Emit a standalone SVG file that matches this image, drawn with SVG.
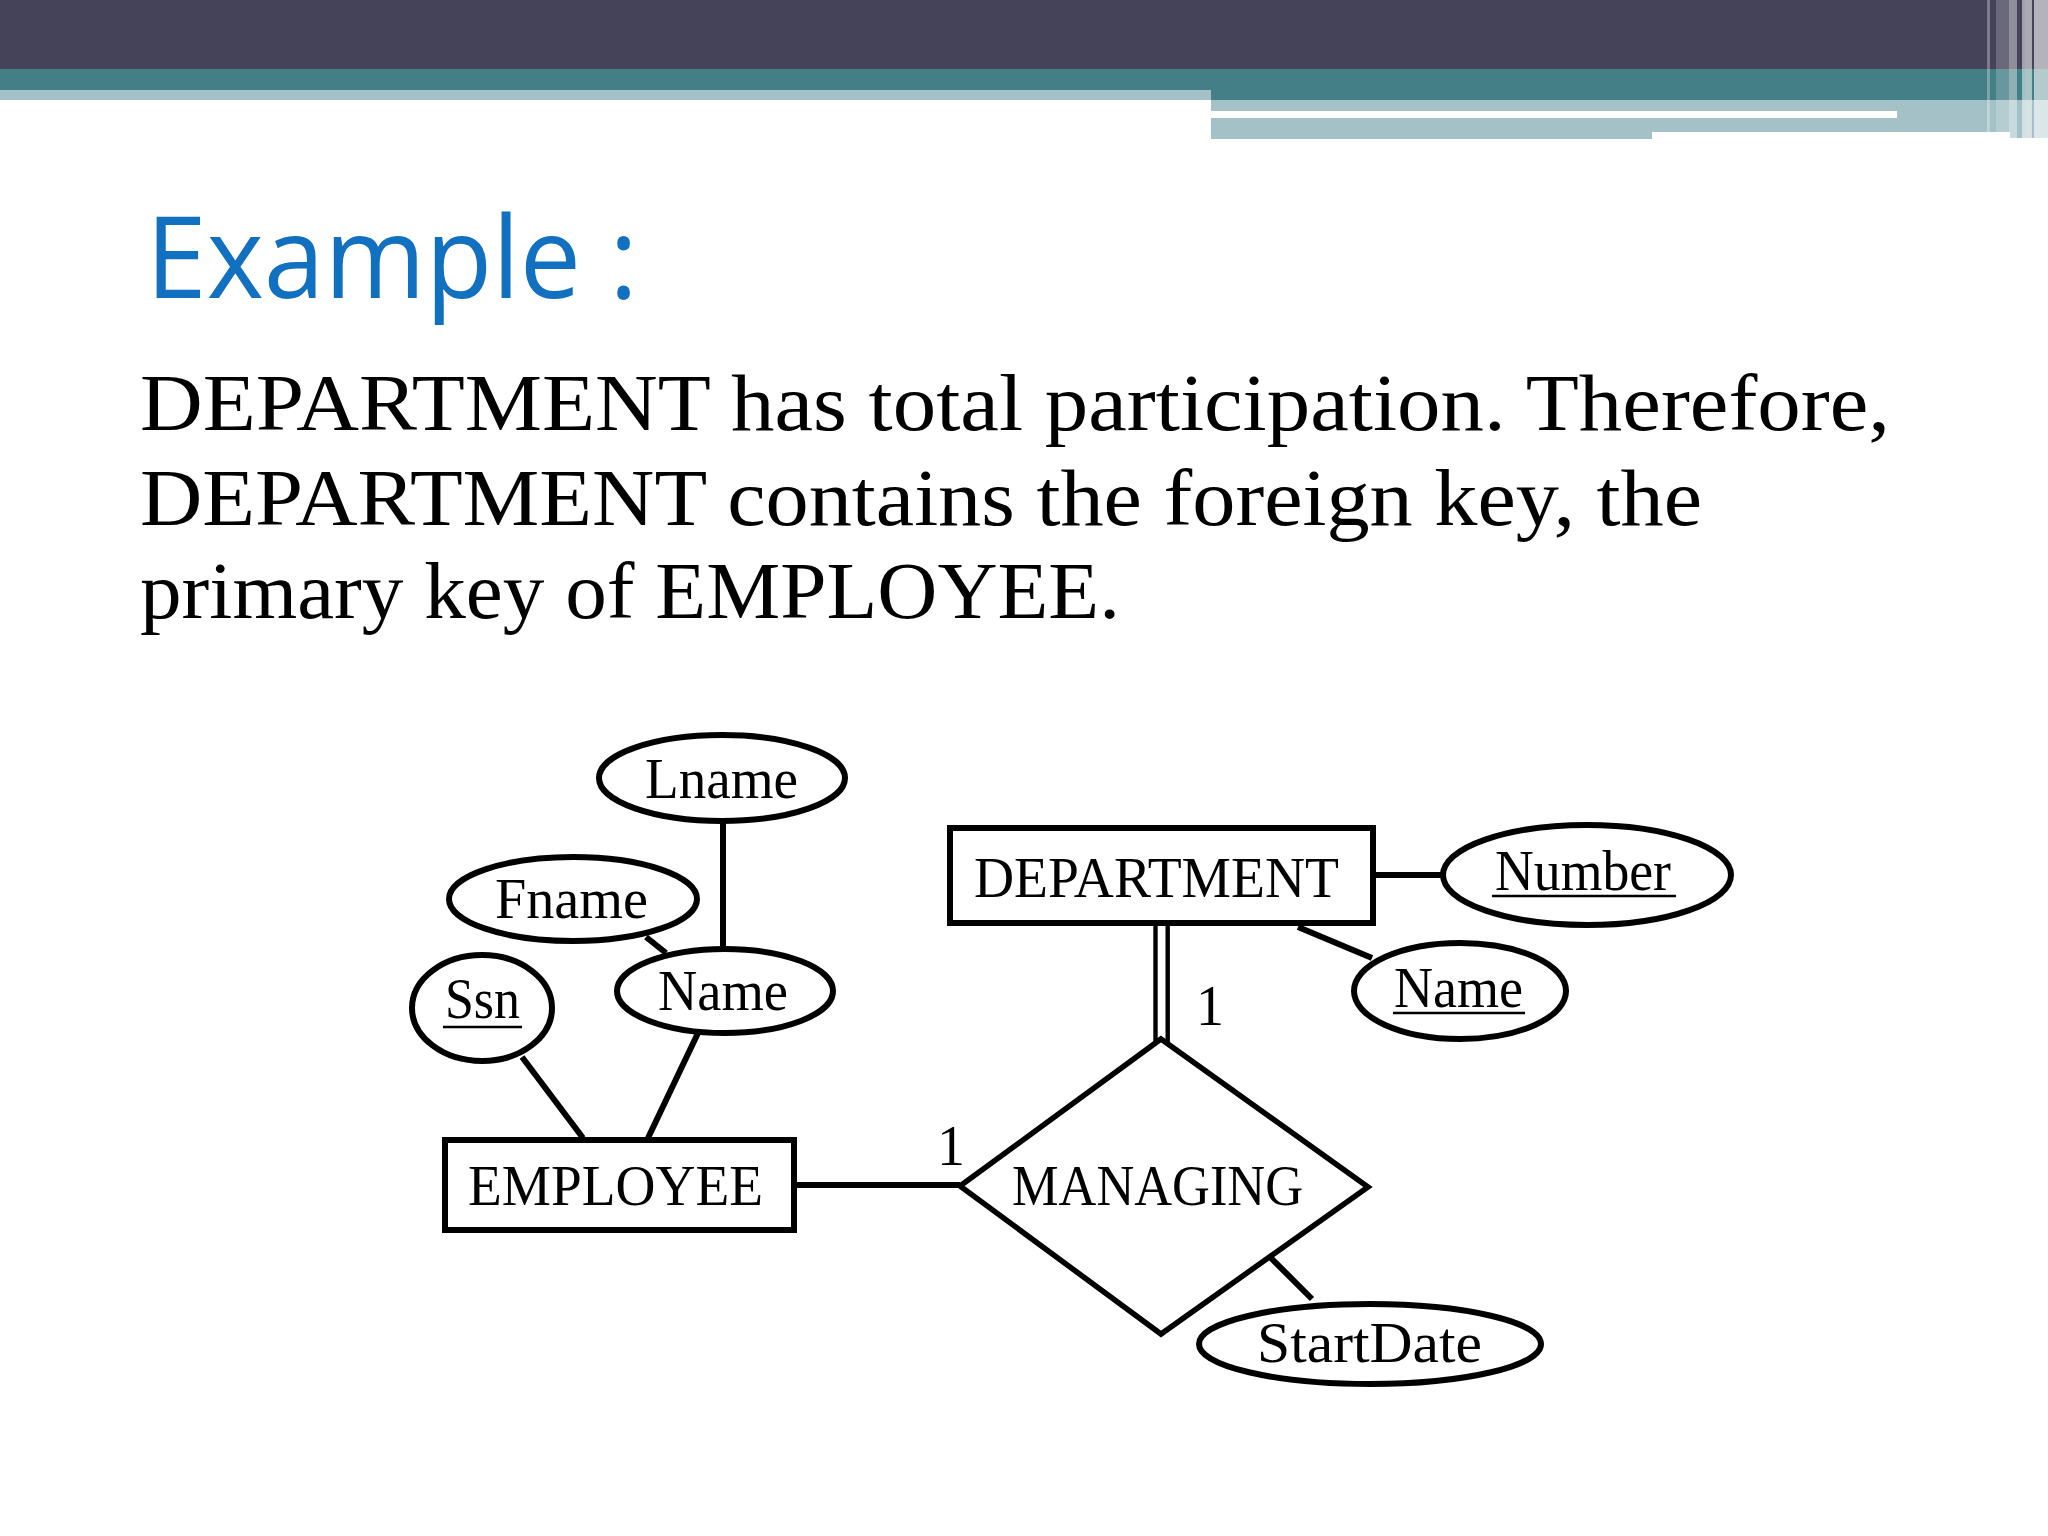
<svg xmlns="http://www.w3.org/2000/svg" width="2048" height="1536" viewBox="0 0 2048 1536">
<defs>
<style>
.er{font-family:"Liberation Serif","Times New Roman",serif;font-size:56px;fill:#000}
.shape{fill:#fff;stroke:#000;stroke-width:6}
.conn line{stroke:#000;stroke-width:6}
.ul{stroke:#000;stroke-width:2.5}
.body{font-family:"Liberation Serif","Times New Roman",serif;font-size:80px;fill:#000}
</style>
</defs>
<rect x="0" y="0" width="2048" height="1536" fill="#fff"/>
<!-- header bands -->
<g id="header">
<rect x="0" y="0" width="2048" height="69" fill="#454359"/>
<rect x="0" y="69" width="2048" height="31" fill="#447E86"/>
<rect x="0" y="90" width="1211" height="10" fill="#A3C1C6"/>
<rect x="1211" y="100" width="776" height="39" fill="#A3C1C6"/>
<rect x="1987" y="100" width="61" height="32" fill="#A3C1C6"/>
<rect x="2010" y="132" width="38" height="6" fill="#A3C1C6"/>
<rect x="1211" y="111" width="686" height="7" fill="#fff"/>
<rect x="1652" y="132" width="358" height="8" fill="#fff"/>
<rect x="1987" y="0" width="3" height="138" fill="#fff" opacity="0.3"/>
<rect x="1996" y="0" width="13" height="138" fill="#fff" opacity="0.2"/>
<rect x="2009" y="0" width="8" height="138" fill="#fff" opacity="0.4"/>
<rect x="2022" y="0" width="3" height="138" fill="#fff" opacity="0.5"/>
<rect x="2025" y="0" width="7" height="138" fill="#fff" opacity="0.55"/>
<rect x="2034" y="0" width="14" height="138" fill="#fff" opacity="0.6"/>
</g>
<text id="title" x="146" y="298" font-family="Open Sans, Lato, sans-serif" font-size="113" fill="#1170C0" textLength="492" lengthAdjust="spacingAndGlyphs">Example :</text>
<g id="bodytext" class="body">
<text x="140" y="430" textLength="1750" lengthAdjust="spacingAndGlyphs">DEPARTMENT has total participation. Therefore,</text>
<text x="140" y="525" textLength="1562" lengthAdjust="spacingAndGlyphs">DEPARTMENT contains the foreign key, the</text>
<text x="140" y="618" textLength="980" lengthAdjust="spacingAndGlyphs">primary key of EMPLOYEE.</text>
</g>
<!-- connectors -->
<g id="connectors" class="conn">
<line x1="723" y1="823" x2="723" y2="948"/>
<line x1="646" y1="937" x2="666" y2="953"/>
<line x1="522" y1="1057" x2="583" y2="1138"/>
<line x1="698" y1="1033" x2="648" y2="1138"/>
<line x1="797" y1="1185" x2="960" y2="1185"/>
<line x1="1376" y1="875" x2="1443" y2="875"/>
<line x1="1298" y1="927" x2="1372" y2="958"/>
<line x1="1155.5" y1="926" x2="1155.5" y2="1042" style="stroke-width:4.4"/>
<line x1="1167.7" y1="926" x2="1167.7" y2="1042" style="stroke-width:4.4"/>
<line x1="1270" y1="1257" x2="1312" y2="1299"/>
</g>
<g id="lname"><ellipse class="shape" cx="722" cy="778" rx="123" ry="43"/><text class="er" x="645" y="798" textLength="153" lengthAdjust="spacingAndGlyphs">Lname</text></g>
<g id="fname"><ellipse class="shape" cx="573" cy="899" rx="124" ry="42"/><text class="er" x="495" y="918" textLength="153" lengthAdjust="spacingAndGlyphs">Fname</text></g>
<g id="name-emp"><ellipse class="shape" cx="725" cy="991" rx="108" ry="42"/><text class="er" x="658" y="1010" textLength="130" lengthAdjust="spacingAndGlyphs">Name</text></g>
<g id="ssn"><ellipse class="shape" cx="482" cy="1008" rx="70" ry="53"/><text class="er" x="445" y="1018" textLength="75" lengthAdjust="spacingAndGlyphs">Ssn</text><line class="ul" x1="443" y1="1027" x2="522" y2="1027"/></g>
<g id="employee"><rect class="shape" x="445" y="1140" width="349" height="90"/><text class="er" x="468" y="1205" textLength="295" lengthAdjust="spacingAndGlyphs">EMPLOYEE</text></g>
<g id="department"><rect class="shape" x="950" y="828" width="423" height="95"/><text class="er" x="974" y="897" textLength="365" lengthAdjust="spacingAndGlyphs">DEPARTMENT</text></g>
<g id="number"><ellipse class="shape" cx="1587" cy="875" rx="144" ry="50"/><text class="er" x="1495" y="890" textLength="176" lengthAdjust="spacingAndGlyphs">Number</text><line class="ul" x1="1492" y1="896" x2="1676" y2="896"/></g>
<g id="name-dept"><ellipse class="shape" cx="1460" cy="991" rx="106" ry="48"/><text class="er" x="1394" y="1007" textLength="129" lengthAdjust="spacingAndGlyphs">Name</text><line class="ul" x1="1393" y1="1013" x2="1525" y2="1013"/></g>
<g id="managing"><polygon class="shape" style="stroke-width:5.5" points="1161,1039 1368,1187 1161,1334 960,1186"/><text class="er" x="1012" y="1205" textLength="291" lengthAdjust="spacingAndGlyphs">MANAGING</text></g>
<g id="startdate"><ellipse class="shape" cx="1370" cy="1344" rx="171" ry="40"/><text class="er" x="1257" y="1362" textLength="225" lengthAdjust="spacingAndGlyphs">StartDate</text></g>
<g id="labels">
<text class="er" x="937" y="1165">1</text>
<text class="er" x="1196" y="1025">1</text>
</g>
</svg>
